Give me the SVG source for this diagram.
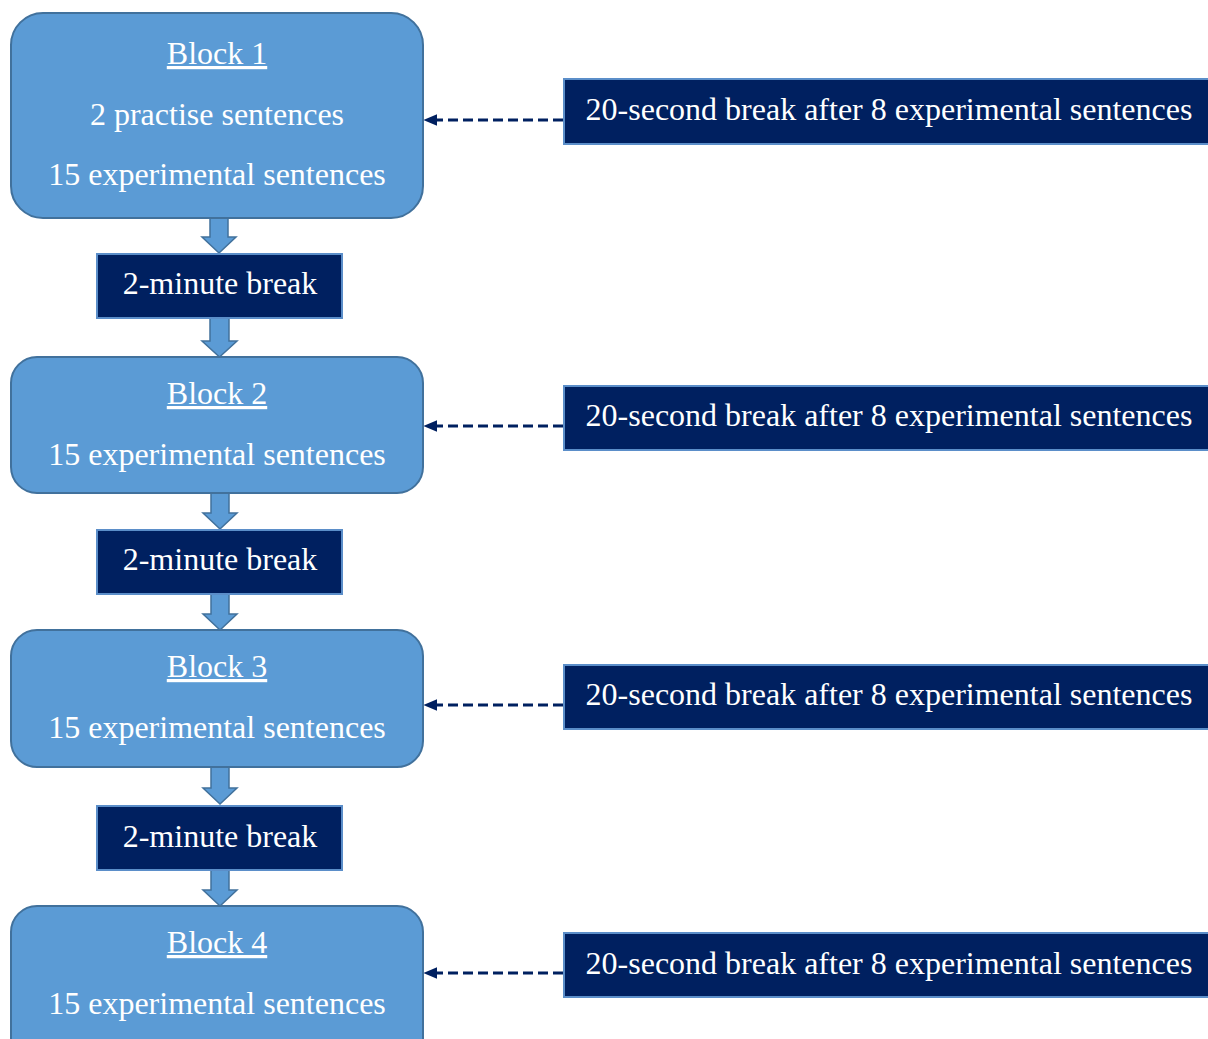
<svg xmlns="http://www.w3.org/2000/svg" width="1208" height="1039" viewBox="0 0 1208 1039">
<defs>
<style>
.blk{fill:#5b9bd5;stroke:#41719c;stroke-width:2}
.brk{fill:#002060;stroke:#5b8ec9;stroke-width:2}
.ba{fill:#5b9bd5;stroke:#41719c;stroke-width:1.5}
.t{font-family:"Liberation Serif","Times New Roman",serif;font-size:32px;fill:#ffffff;text-anchor:middle}
.u{text-decoration:underline}
.dl{stroke:#002060;stroke-width:3;stroke-dasharray:10 5;fill:none}
</style>
<marker id="ah" viewBox="0 0 12 10" refX="1" refY="5" markerWidth="4.6" markerHeight="4" orient="auto-start-reverse" markerUnits="strokeWidth">
<path d="M0,0 L12,5 L0,10 z" fill="#002060"/>
</marker>
</defs>
<rect width="1208" height="1039" fill="#ffffff"/>
<g id="connectors">
<path class="ba" d="M210,218 H228 V237 H236 L219,253 L202,237 H210 Z"/>
<path class="ba" d="M210,318 H229 V341 H237 L219.5,357 L202,341 H210 Z"/>
<path class="ba" d="M211,493 H229 V513 H237 L220,529 L203,513 H211 Z"/>
<path class="ba" d="M211,594 H229 V614 H237 L220,630 L203,614 H211 Z"/>
<path class="ba" d="M211,767 H229 V788 H237 L220,804 L203,788 H211 Z"/>
<path class="ba" d="M211,870 H229 V890 H237 L220,906 L203,890 H211 Z"/>
<line class="dl" x1="563" y1="120" x2="436" y2="120" marker-end="url(#ah)"/>
<line class="dl" x1="563" y1="426" x2="436" y2="426" marker-end="url(#ah)"/>
<line class="dl" x1="563" y1="705" x2="436" y2="705" marker-end="url(#ah)"/>
<line class="dl" x1="563" y1="973" x2="436" y2="973" marker-end="url(#ah)"/>
</g>
<g id="block1">
<rect class="blk" x="11" y="13" width="412" height="205" rx="32"/>
<text class="t u" x="217" y="64">Block 1</text>
<text class="t" x="217" y="125">2 practise sentences</text>
<text class="t" x="217" y="185">15 experimental sentences</text>
</g>
<g id="break1">
<rect class="brk" x="97" y="254" width="245" height="64"/>
<text class="t" x="220" y="294">2-minute break</text>
</g>
<g id="block2">
<rect class="blk" x="11" y="357" width="412" height="136" rx="26"/>
<text class="t u" x="217" y="404">Block 2</text>
<text class="t" x="217" y="465">15 experimental sentences</text>
</g>
<g id="break2">
<rect class="brk" x="97" y="530" width="245" height="64"/>
<text class="t" x="220" y="570">2-minute break</text>
</g>
<g id="block3">
<rect class="blk" x="11" y="630" width="412" height="137" rx="26"/>
<text class="t u" x="217" y="677">Block 3</text>
<text class="t" x="217" y="738">15 experimental sentences</text>
</g>
<g id="break3">
<rect class="brk" x="97" y="806" width="245" height="64"/>
<text class="t" x="220" y="847">2-minute break</text>
</g>
<g id="block4">
<rect class="blk" x="11" y="906" width="412" height="160" rx="26"/>
<text class="t u" x="217" y="953">Block 4</text>
<text class="t" x="217" y="1014">15 experimental sentences</text>
</g>
<g id="side1">
<rect class="brk" x="564" y="79" width="660" height="65"/>
<text class="t" x="889" y="120">20-second break after 8 experimental sentences</text>
</g>
<g id="side2">
<rect class="brk" x="564" y="386" width="660" height="64"/>
<text class="t" x="889" y="426">20-second break after 8 experimental sentences</text>
</g>
<g id="side3">
<rect class="brk" x="564" y="665" width="660" height="64"/>
<text class="t" x="889" y="705">20-second break after 8 experimental sentences</text>
</g>
<g id="side4">
<rect class="brk" x="564" y="933" width="660" height="64"/>
<text class="t" x="889" y="974">20-second break after 8 experimental sentences</text>
</g>
</svg>
